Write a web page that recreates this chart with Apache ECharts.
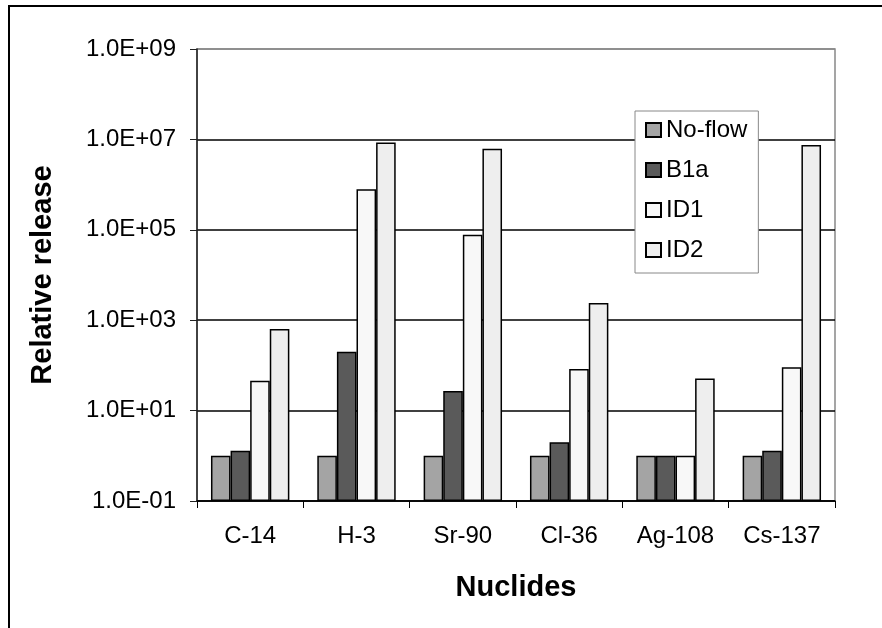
<!DOCTYPE html>
<html>
<head>
<meta charset="utf-8">
<script src="https://cdn.jsdelivr.net/npm/echarts@6/dist/echarts.min.js"></script>
<style>
  html, body { margin: 0; padding: 0; background: #fff; }
  #chart { width: 882px; height: 628px; }
</style>
</head>
<body>
<div id="chart"></div>
<script>
// Nuclide release relative to the no-flow case, per flow scenario
const nuclides = ['C-14', 'H-3', 'Sr-90', 'Cl-36', 'Ag-108', 'Cs-137'];
const noFlow = [1, 1, 1, 1, 1, 1];
const b1a = [1.3, 200, 27, 2, 1, 1.3];
const id1 = [46, 7.9e5, 7.8e4, 83, 1, 91];
const id2 = [640, 8.5e6, 6.2e6, 2400, 51, 7.5e6];

const seriesNames = ['No-flow', 'B1a', 'ID1', 'ID2'];
const seriesColors = ['#a4a4a4', '#5a5a5a', '#f8f8f8', '#eeeeee'];

// Y axis ticks every second decade
const yTickValues = [0.1, 10, 1e3, 1e5, 1e7, 1e9];
const yTickLabels = ['1.0E-01', '1.0E+01', '1.0E+03', '1.0E+05', '1.0E+07', '1.0E+09'];

const FONT = 'Arial, "Liberation Sans", sans-serif';

const chart = echarts.init(document.getElementById('chart'), null, { renderer: 'canvas' });

const seriesData = [noFlow, b1a, id1, id2];

chart.setOption({
  animation: false,
  backgroundColor: '#fff',
  textStyle: { fontFamily: FONT },
  graphic: [{
    type: 'rect',
    shape: { x: 9, y: 6, width: 900, height: 700 },
    style: { fill: 'none', stroke: '#000', lineWidth: 2 },
    silent: true
  }],
  grid: {
    left: 197, right: 47, top: 49, bottom: 127,
    show: true, borderColor: '#888', borderWidth: 1.5,
    containLabel: false
  },
  legend: {
    orient: 'vertical',
    left: 635, top: 111,
    padding: [6, 11, 10, 10],
    itemWidth: 15, itemHeight: 14,
    itemGap: 14,
    backgroundColor: '#fff',
    borderColor: '#888', borderWidth: 1,
    borderRadius: 0,
    icon: 'rect',
    textStyle: { fontFamily: FONT, fontSize: 24, color: '#000', lineHeight: 26 },
    data: seriesNames
  },
  xAxis: {
    type: 'category',
    data: nuclides,
    name: 'Nuclides',
    nameLocation: 'middle',
    nameGap: 72,
    nameTextStyle: { fontFamily: FONT, fontSize: 29, fontWeight: 'bold', color: '#000' },
    axisLine: { lineStyle: { color: '#000', width: 1.5 } },
    axisTick: { show: true, length: 7, inside: false, lineStyle: { color: '#000', width: 1 } },
    axisLabel: { fontFamily: FONT, fontSize: 24, color: '#000', margin: 23 },
    splitLine: { show: false }
  },
  yAxis: {
    type: 'log',
    logBase: 10,
    min: 0.1,
    max: 1e9,
    // bars grow up from the bottom of the axis
    startValue: 0.1,
    name: 'Relative release',
    nameLocation: 'middle',
    nameGap: 140,
    nameRotate: 90,
    nameTextStyle: { fontFamily: FONT, fontSize: 29, fontWeight: 'bold', color: '#000' },
    axisLine: { show: true, lineStyle: { color: '#222', width: 1.5 } },
    axisTick: { show: true, length: 7, lineStyle: { color: '#222', width: 1 }, customValues: yTickValues },
    axisLabel: {
      fontFamily: FONT, fontSize: 24, color: '#000', margin: 21,
      customValues: yTickValues,
      formatter: function (v) {
        const i = yTickValues.findIndex(t => Math.abs(Math.log10(t) - Math.log10(v)) < 1e-6);
        return i >= 0 ? yTickLabels[i] : '';
      }
    },
    // black gridlines; the top one is the grey plot-area border
    splitLine: { show: true, lineStyle: { color: ['#000', '#000', '#000', '#000', '#000', '#888'], width: 1.5 } },
    minorTick: { show: false },
    minorSplitLine: { show: false }
  },
  series: seriesNames.map((name, i) => ({
    name: name,
    type: 'bar',
    data: seriesData[i],
    barWidth: 19.6,
    barGap: '0%',
    itemStyle: { color: seriesColors[i], borderColor: '#000', borderWidth: 1.5 },
    emphasis: { disabled: true }
  }))
});
</script>
</body>
</html>
